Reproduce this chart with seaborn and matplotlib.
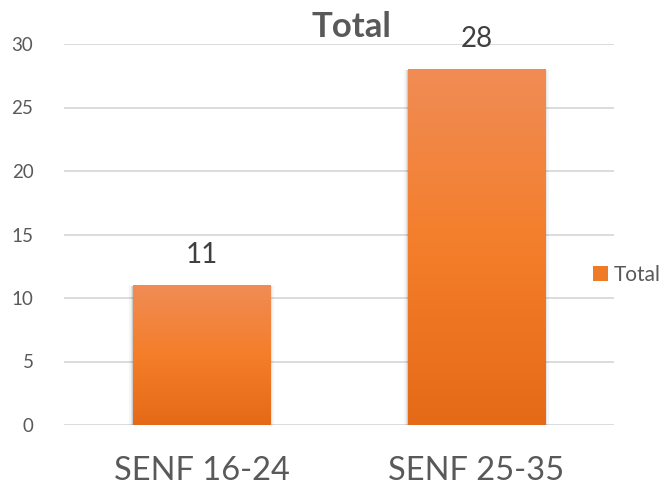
import numpy as np
import pandas as pd
import matplotlib
matplotlib.use("Agg")
import matplotlib.pyplot as plt
from matplotlib.colors import LinearSegmentedColormap
from matplotlib.patches import Patch
import seaborn as sns

categories = ["SENF 16-24", "SENF 25-35"]
values = [11, 28]
series_name = "Total"
y_ticks = [0, 5, 10, 15, 20, 25, 30]

sns.set_theme(style="white")
plt.rcParams["font.family"] = ["Lato", "DejaVu Sans"]

text_gray = "#595959"
grid_gray = "#D9D9D9"

df = pd.DataFrame({"cat": categories, "val": values})

fig = plt.figure(figsize=(6.65, 4.87), dpi=100)
ax = fig.add_axes([64 / 665, 1 - 425 / 487, (614 - 64) / 665, (425 - 44) / 487])

sns.barplot(data=df, x="cat", y="val", ax=ax, width=0.5, color="#F47F2A",
            edgecolor="none", zorder=3)

ax.set_ylim(0, 30)
ax.set_xlim(-0.5, 1.5)
ax.set_yticks(y_ticks)
ax.yaxis.grid(True, color=grid_gray, linewidth=1.3, zorder=0)
ax.xaxis.grid(False)
for s in ax.spines.values():
    s.set_visible(False)
ax.tick_params(axis="y", length=0, labelsize=13.5, labelcolor=text_gray, pad=22)
ax.tick_params(axis="x", length=0, labelsize=23.5, labelcolor=text_gray, pad=22)
ax.set_xlabel("")
ax.set_ylabel("")

# vertical orange gradient fill clipped to each bar, with a soft shadow
cmap = LinearSegmentedColormap.from_list(
    "bar_grad", ["#E56A17", "#F47E2A", "#F08C55"])
grad = np.linspace(0, 1, 256).reshape(-1, 1)
for bar in ax.patches:
    x0, y0 = bar.get_x(), bar.get_y()
    w, h = bar.get_width(), bar.get_height()
    for k, a in enumerate([0.10, 0.07, 0.04]):
        d = 0.004 * (k + 1)
        ax.add_patch(plt.Rectangle((x0 - d, y0 - 0.12 * (k + 1)), w + 2 * d,
                                   h + 0.1 * (k + 1), facecolor="black",
                                   alpha=a, edgecolor="none", zorder=2))
    im = ax.imshow(grad, extent=[x0, x0 + w, y0, y0 + h], origin="lower",
                   cmap=cmap, aspect="auto", zorder=4)
    im.set_clip_path(bar)
    ax.text(x0 + w / 2, h + 1.35, f"{h:g}", ha="center", va="bottom",
            fontsize=20, color="#404040", zorder=5)

ax.set_xlim(-0.5, 1.5)
ax.set_ylim(0, 30)

fig.text(351 / 665, 1 - 27 / 487, series_name, ha="center", va="center",
         fontsize=25, fontweight="bold", color=text_gray)

handle = Patch(facecolor="#EF7A28", edgecolor="none")
fig.legend([handle], [series_name], loc="center left",
           bbox_to_anchor=(585 / 665, 1 - 275 / 487), frameon=False,
           fontsize=15, labelcolor=text_gray, handlelength=0.7,
           handleheight=0.7, handletextpad=0.3, borderaxespad=0)

fig.savefig("out.png", dpi=100)
